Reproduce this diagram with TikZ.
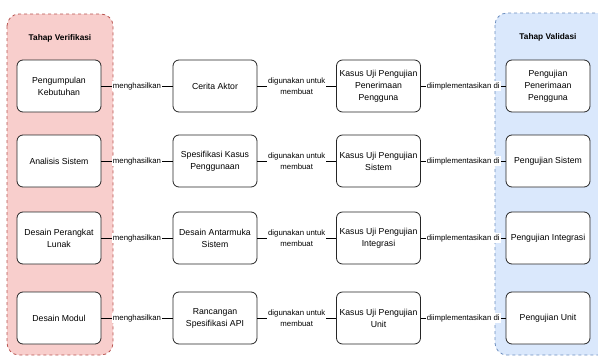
\documentclass[tikz,border=0pt]{standalone}
\usepackage{fontspec}
\setmainfont{Liberation Sans}
\usetikzlibrary{positioning}

\definecolor{verifFill}{HTML}{F8CECC}
\definecolor{verifLine}{HTML}{B85450}
\definecolor{validFill}{HTML}{DAE8FC}
\definecolor{validLine}{HTML}{6C8EBF}

\begin{document}
\begin{tikzpicture}[x=1pt,y=-1pt,line width=0.8pt,
    stage/.style={draw=black!85,fill=white,rounded corners=6pt,minimum width=84pt,minimum height=52pt,
      inner sep=1pt,align=center,font=\fontsize{8.7}{12}\selectfont},
    rel/.style={fill=white,inner sep=1pt,align=center,font=\fontsize{7.8}{10.5}\selectfont},
    phase/.style={dashed,rounded corners=12pt,line width=0.8pt},
    phasetitle/.style={font=\fontsize{8.3}{10}\selectfont\bfseries}]
  \useasboundingbox (0,0) rectangle (598,356);
  % containers
  \draw[phase,draw=verifLine,fill=verifFill] (7,14) rectangle (113,355);
  \draw[phase,draw=validLine,fill=validFill] (495,13) rectangle (610,355);
  \node[phasetitle] (verif) at (60,38) {Tahap Verifikasi};
  \node[phasetitle] (valid) at (548,37) {Tahap Validasi};
  % row 1
  \node[stage] (req) at (59,86) {Pengumpulan\\Kebutuhan};
  \node[stage] (story) at (215,86) {Cerita Aktor};
  \node[stage] (uatcase) at (378.5,86) {Kasus Uji Pengujian\\Penerimaan\\Pengguna};
  \node[stage] (uat) at (548,86) {Pengujian\\Penerimaan\\Pengguna};
  % row 2
  \node[stage] (analysis) at (59,161) {Analisis Sistem};
  \node[stage] (usecase) at (215,161) {Spesifikasi Kasus\\Penggunaan};
  \node[stage] (syscase) at (378.5,161) {Kasus Uji Pengujian\\Sistem};
  \node[stage] (systest) at (548,161) {Pengujian Sistem};
  % row 3
  \node[stage] (design) at (59,238) {Desain Perangkat\\Lunak};
  \node[stage] (ui) at (215,238) {Desain Antarmuka\\Sistem};
  \node[stage] (intcase) at (378.5,238) {Kasus Uji Pengujian\\Integrasi};
  \node[stage] (inttest) at (548,238) {Pengujian Integrasi};
  % row 4
  \node[stage] (module) at (59,318) {Desain Modul};
  \node[stage] (api) at (215,318) {Rancangan\\Spesifikasi API};
  \node[stage] (unitcase) at (378.5,318) {Kasus Uji Pengujian\\Unit};
  \node[stage] (unittest) at (548,318) {Pengujian Unit};
  % connectors
  \draw (req) -- node[rel] (r1a) {menghasilkan} (story);
  \draw (story) -- node[rel] (r1b) {digunakan untuk\\membuat} (uatcase);
  \draw (uatcase) -- node[rel] (r1c) {diimplementasikan di} (uat);
  \draw (analysis) -- node[rel] (r2a) {menghasilkan} (usecase);
  \draw (usecase) -- node[rel] (r2b) {digunakan untuk\\membuat} (syscase);
  \draw (syscase) -- node[rel] (r2c) {diimplementasikan di} (systest);
  \draw (design) -- node[rel] (r3a) {menghasilkan} (ui);
  \draw (ui) -- node[rel] (r3b) {digunakan untuk\\membuat} (intcase);
  \draw (intcase) -- node[rel] (r3c) {diimplementasikan di} (inttest);
  \draw (module) -- node[rel] (r4a) {menghasilkan} (api);
  \draw (api) -- node[rel] (r4b) {digunakan untuk\\membuat} (unitcase);
  \draw (unitcase) -- node[rel] (r4c) {diimplementasikan di} (unittest);
\end{tikzpicture}
\end{document}
